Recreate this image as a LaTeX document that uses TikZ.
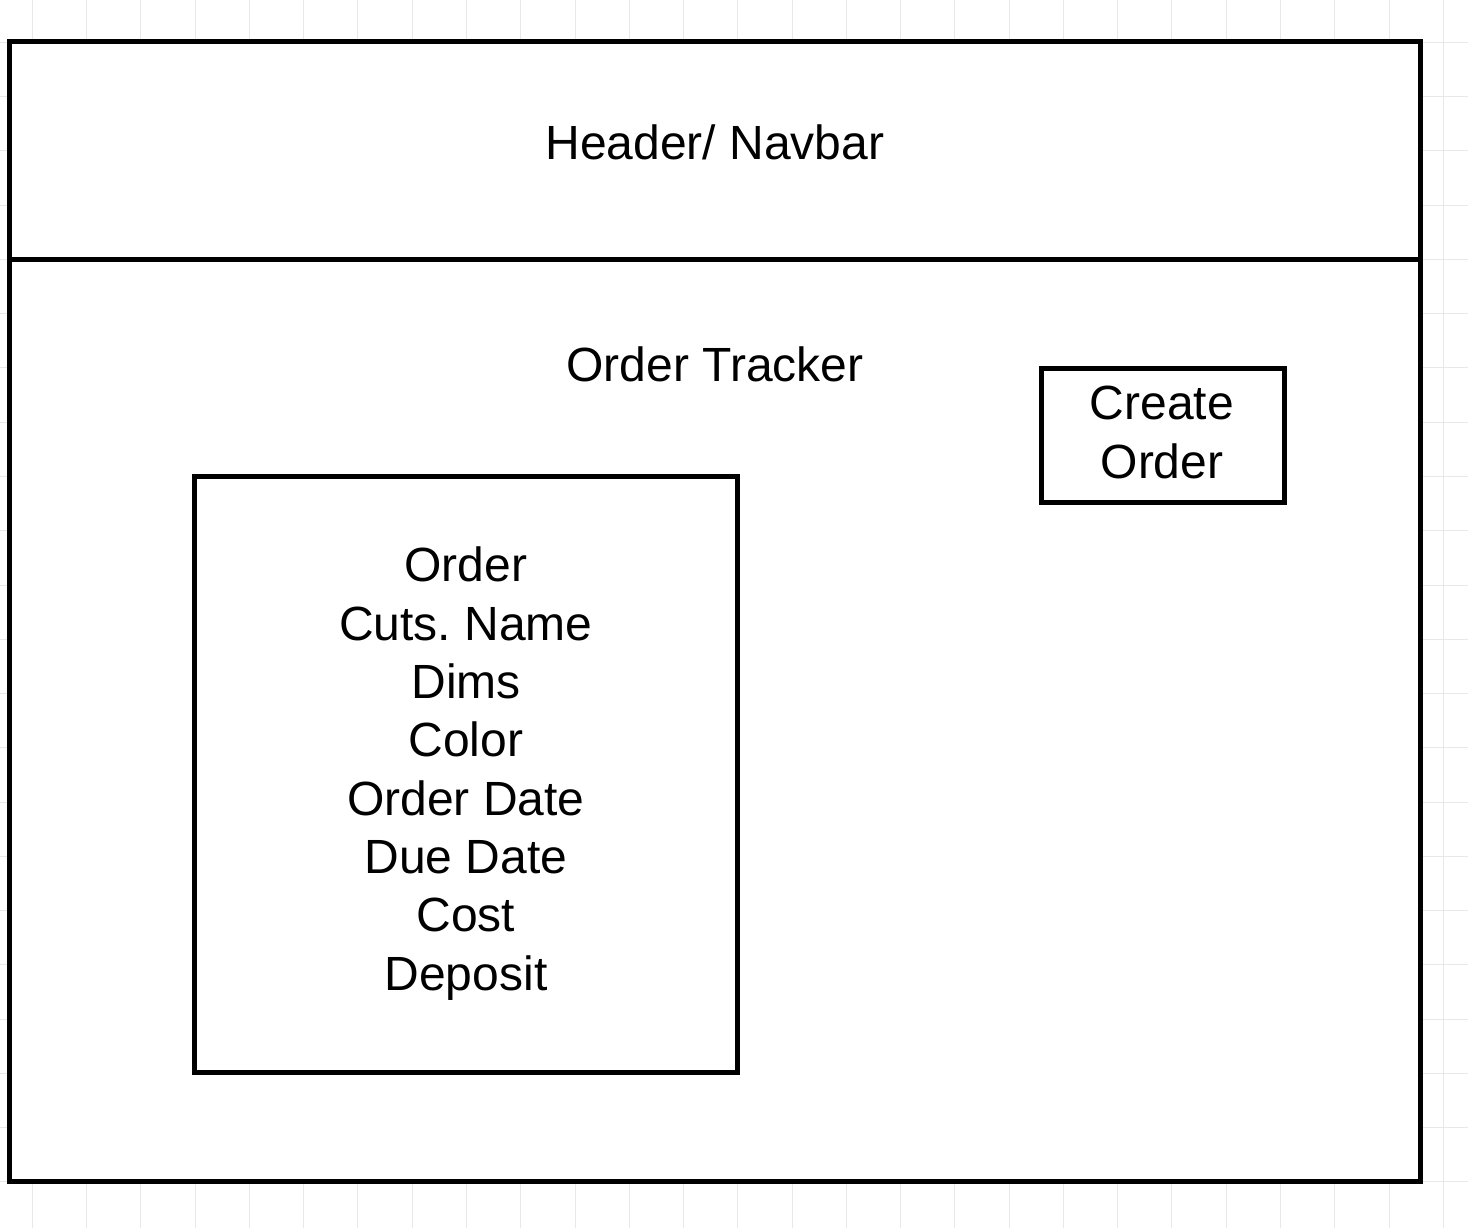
\documentclass[tikz,border=0pt]{standalone}
\usepackage{fontspec}
\setmainfont{Liberation Sans}
\frenchspacing
\definecolor{gridgray}{RGB}{232,232,232}
\begin{document}
\begin{tikzpicture}[x=1pt,y=-1pt,
  boxline/.style={draw=black, line width=5pt, fill=white, inner sep=0pt, outer sep=0pt, anchor=north west},
  lbl/.style={font=\fontsize{48}{58.33}\selectfont, align=center, inner sep=0pt, anchor=base},
  gridline/.style={draw=gridgray, line width=1pt}]
\useasboundingbox (0,0) rectangle (1468,1228);
\fill[white] (0,0) rectangle (1468,1228);
\foreach \i in {0,...,26} {\draw[gridline] ({32.3+54.27*\i},0) -- ({32.3+54.27*\i},1228);}
\foreach \j in {0,...,22} {\draw[gridline] (0,{42.3+54.27*\j}) -- (1468,{42.3+54.27*\j});}
% page frame
\node[boxline, minimum width=1411pt, minimum height=217pt] (header) at (9.8,42) {};
\node[boxline, minimum width=1411pt, minimum height=922pt] (body) at (9.8,259) {};
% boxes
\node[boxline, minimum width=543pt, minimum height=596.5pt] (orderbox) at (194,476) {};
\node[boxline, minimum width=243pt, minimum height=134.5pt] (createbox) at (1041,368) {};
% labels (base anchor = baseline of last line)
\node[lbl] (headertxt) at (715,159.3) {Header/ Navbar};
\node[lbl] (trackertxt) at (715,381) {Order Tracker};
\node[lbl] (createtxt) at (1162,478.3) {Create\\Order};
\node[lbl] (ordertxt) at (466,990) {Order\\Cuts. Name\\Dims\\Color\\Order Date\\Due Date\\Cost\\Deposit};
\end{tikzpicture}
\end{document}
